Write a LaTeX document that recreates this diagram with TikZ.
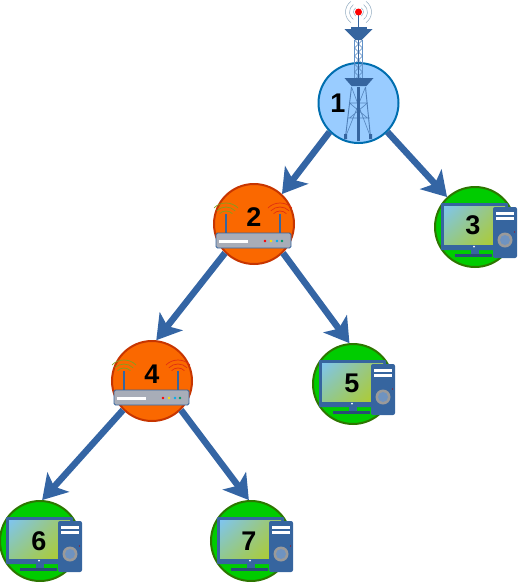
\documentclass[tikz,border=0pt]{standalone}
\usepackage{fontspec}
\setmainfont{Liberation Sans}
\usetikzlibrary{arrows.meta,shadings}
\definecolor{edgeblue}{HTML}{3465A4}
\definecolor{iconblue}{HTML}{36659F}
\definecolor{bluefill}{HTML}{99CCFF}
\definecolor{bluestroke}{HTML}{006EAF}
\definecolor{orfill}{HTML}{FA6800}
\definecolor{orstroke}{HTML}{C73500}
\definecolor{grfill}{HTML}{00CC00}
\definecolor{grstroke}{HTML}{2D7600}
\definecolor{scrUL}{HTML}{7FC5F0}
\definecolor{scrUR}{HTML}{A0C860}
\definecolor{scrLL}{HTML}{90C890}
\definecolor{scrLR}{HTML}{B4CC20}
\definecolor{routerbody}{HTML}{A8ADB8}
\definecolor{knobring}{HTML}{9A9A9A}
\definecolor{knobcore}{HTML}{6F93C0}
\definecolor{arcgreen}{HTML}{80A020}
\definecolor{arcred}{HTML}{E03010}
\definecolor{arcgrey}{HTML}{8FA9BF}
\tikzset{
  x=1pt,y=-1pt,
  vertex/.style={circle,draw,line width=2pt,minimum size=80pt,inner sep=0pt},
  tower node/.style={vertex,fill=bluefill,draw=bluestroke},
  router node/.style={vertex,fill=orfill,draw=orstroke},
  host node/.style={vertex,fill=grfill,draw=grstroke},
  num/.style={font=\fontsize{27}{27}\selectfont\bfseries,text=black,inner sep=0pt},
  link/.style={draw=edgeblue,line width=6.5pt,-{Stealth[length=24pt,width=29pt,inset=6pt]}},
  pc/.pic={
    \fill[iconblue,rounded corners=1pt] (-34,-24) rectangle (33,23);
    \shade[upper left=scrUL,upper right=scrUR,lower left=scrLL,lower right=scrLR] (-31,-21) rectangle (30,17);
    \fill[iconblue] (-4,23) rectangle (4,28);
    \fill[iconblue!75!black] (-20,27) rectangle (17,30);
    \fill[white] (-1,19.5) circle (1);
    \fill[iconblue,rounded corners=2pt] (18,-20) rectangle (42,31);
    \fill[white] (21,-15) rectangle (39,-12);
    \fill[white] (21,-10) rectangle (39,-7);
    \fill[knobring] (30,13) circle (7.5);
    \fill[knobcore] (30,13) circle (5);
    \fill[red!70!black] (39.5,5) circle (.6);
  },
  router/.pic={
    \draw[iconblue,line width=1.2pt] (-28,-10) -- (-28,12);
    \draw[iconblue,line width=1.2pt] (26,-10) -- (26,12);
    \foreach \r in {9,13,17}{
      \draw[arcgreen,line width=.7pt] (-28,-4) ++(-135:\r) arc[start angle=225,end angle=315,radius=\r];
      \draw[arcred,line width=.7pt] (26,-4) ++(-135:\r) arc[start angle=225,end angle=315,radius=\r];
    }
    \draw[fill=routerbody,draw=iconblue,line width=.8pt,rounded corners=1.5pt] (-38,9) rectangle (37,24);
    \fill[white] (-35,16) rectangle (-6,18.5);
    \fill[red] (11,17) circle (1.4);
    \fill[yellow!85!orange] (17,17) circle (1.4);
    \fill[cyan] (23,17) circle (1.4);
    \fill[teal!80!green] (28,17) circle (1.4);
  },
  tower/.pic={
    \foreach \r in {5,9,13}{
      \draw[arcgrey,line width=.5pt] (0,-91) ++(-125:\r) arc[start angle=235,end angle=125,radius=\r];
      \draw[arcgrey,line width=.5pt] (0,-91) ++(-55:\r) arc[start angle=-55,end angle=55,radius=\r];
    }
    \draw[iconblue,line width=1.6pt] (0,-91) -- (0,-75);
    \fill[red] (0,-91) circle (3.5);
    \fill[iconblue] (-14,-74) -- (14,-74) -- (5,-65) -- (3,-63) -- (-3,-63) -- (-5,-65) -- cycle;
    \fill[iconblue] (-8,-76) rectangle (8,-72);
    \draw[iconblue!55!bluefill,line width=1.1pt] (-4,-63) -- (-4,-25) (4,-63) -- (4,-25);
    \foreach \y in {-63,-55,-47,-39,-31}{
      \draw[iconblue!70!bluefill,line width=.6pt] (-4,\y) -- (4,\y+8) (4,\y) -- (-4,\y+8);
    }
    \draw[iconblue,line width=1.8pt] (0,-63) -- (0,-25);
    \fill[iconblue] (-14,-25) -- (15,-25) -- (8,-17) -- (-7,-17) -- cycle;
    \draw[iconblue!75!bluefill,line width=.9pt] (-7,-16) -- (-13,34) (7,-16) -- (12,34);
    \draw[iconblue!70!bluefill,line width=.6pt] (-7,-16) -- (12,34) (7,-16) -- (-13,34)
      (-9,0) -- (9,0) (-9,0) -- (9,15) (9,0) -- (-9,15) (-11,15) -- (11,15);
    \draw[iconblue,line width=2.2pt] (0,-16) -- (0,38);
    \fill[iconblue] (-14.5,31) rectangle (-11.5,36) (10.5,31) rectangle (13.5,36);
  },
}
\begin{document}
\begin{tikzpicture}
\useasboundingbox (0,0) rectangle (525,582);
\node[tower node] (n1) at (358.5,103) {};
\node[router node] (n2) at (254,224) {};
\node[host node] (n3) at (475,227) {};
\node[router node] (n4) at (152,381) {};
\node[host node] (n5) at (353,384) {};
\node[host node] (n6) at (40,541) {};
\node[host node] (n7) at (251,541) {};
\draw[link] (n1.225) -- (n2.47);
\draw[link] (n1.-45) -- (n3.133);
\draw[link] (n2.225) -- (n4.84);
\draw[link] (n2.-45) -- (n5.95);
\draw[link] (n4.225) -- (n6.87);
\draw[link] (n4.-45) -- (n7.93);
\pic at (n1) {tower};
\pic at (n2) {router};
\pic at (n3) {pc};
\pic at (n4) {router};
\pic at (n5) {pc};
\pic at (n6) {pc};
\pic at (n7) {pc};
\node[num] (l1) at (338,103) {1};
\node[num] (l2) at (254,217) {2};
\node[num] (l3) at (473,225) {3};
\node[num] (l4) at (152,374) {4};
\node[num] (l5) at (352,383) {5};
\node[num] (l6) at (39,541) {6};
\node[num] (l7) at (249,541) {7};
\end{tikzpicture}
\end{document}
